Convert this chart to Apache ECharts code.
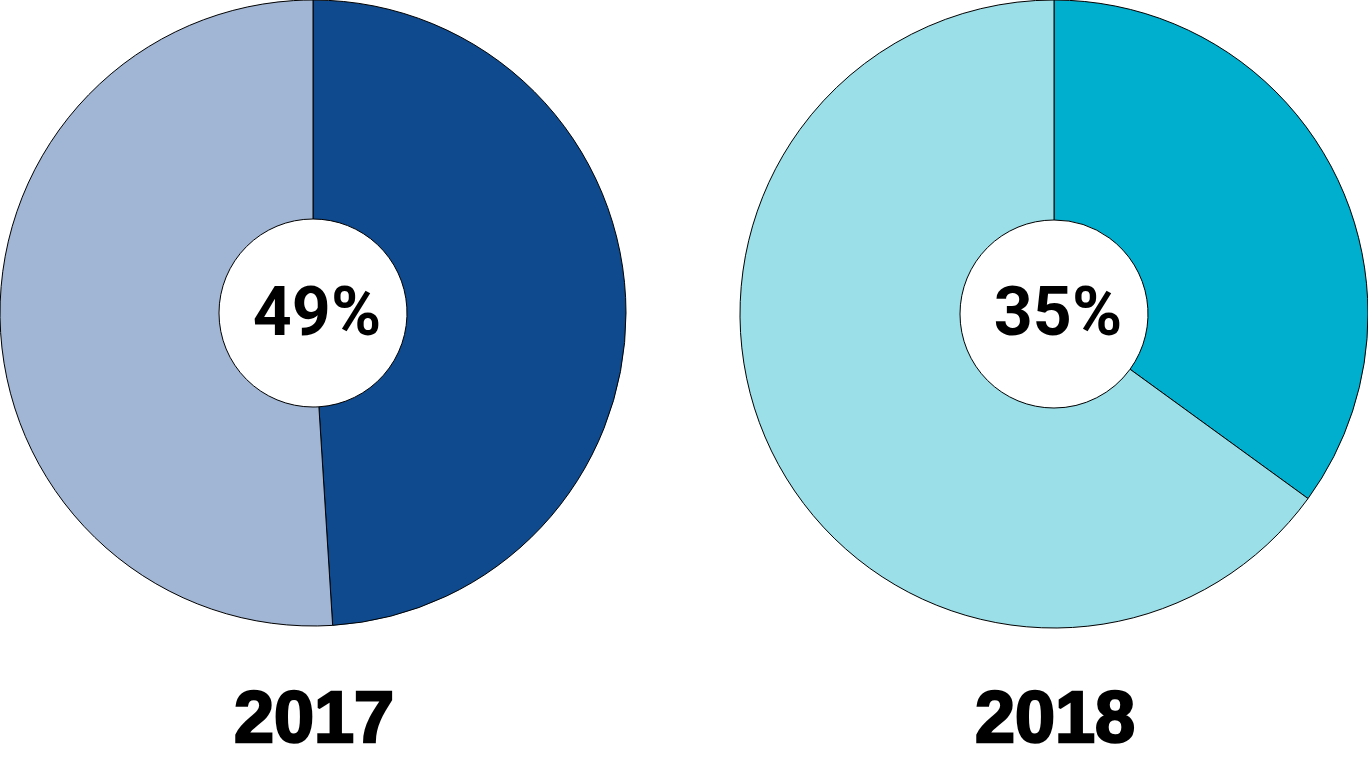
<!DOCTYPE html>
<html>
<head>
<meta charset="utf-8">
<script src="https://cdn.jsdelivr.net/npm/echarts@6/dist/echarts.min.js"></script>
<style>
html,body{margin:0;padding:0;background:#fff;}
#c{width:1368px;height:770px;}
</style>
</head>
<body>
<div id="c"></div>
<script>
const years = ['2017', '2018'];
const shares = [49, 35];
const rest = [51, 65];
const mainColors = ['#0f4a8e', '#00aecd'];
const lightColors = ['#a1b6d4', '#9bdfe9'];

const centers = [[313, 313], [1054, 314]];
const outerR = [313, 314];
const chart = echarts.init(document.getElementById('c'));

const series = years.map((y, i) => ({
  type: 'pie',
  name: y,
  center: centers[i],
  radius: [94, outerR[i]],
  startAngle: 90,
  clockwise: true,
  silent: true,
  label: { show: false },
  labelLine: { show: false },
  itemStyle: { borderColor: '#000', borderWidth: 1 },
  data: [
    { name: 'share', value: shares[i], itemStyle: { color: mainColors[i] } },
    { name: 'rest', value: rest[i], itemStyle: { color: lightColors[i] } }
  ]
}));

const graphics = [];
years.forEach((y, i) => {
  graphics.push({
    type: 'text',
    x: centers[i][0] + 4,
    y: 318,
    style: {
      text: shares[i] + '%',
      fontFamily: 'Roboto',
      fontWeight: 'bold',
      fontSize: 68,
      fill: '#000',
      align: 'center',
      verticalAlign: 'middle'
    }
  });
  graphics.push({
    type: 'text',
    x: centers[i][0] + 1,
    y: 722,
    style: {
      text: y,
      fontFamily: 'Liberation Sans',
      fontWeight: 'bold',
      fontSize: 72,
      fill: '#000',
      stroke: '#000',
      lineWidth: 2.5,
      align: 'center',
      verticalAlign: 'middle'
    }
  });
});

chart.setOption({
  animation: false,
  backgroundColor: '#fff',
  series: series,
  graphic: graphics
});
</script>
</body>
</html>
